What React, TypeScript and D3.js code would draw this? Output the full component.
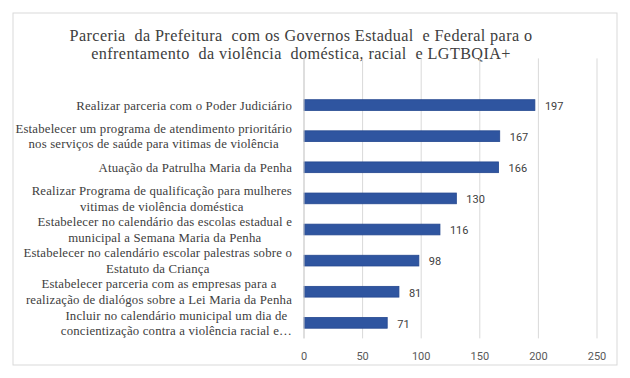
import React from "react";
import * as d3 from "d3";

const titleLines = [
  "Parceria  da Prefeitura  com os Governos Estadual  e Federal para o",
  "enfrentamento  da violência  doméstica, racial  e LGTBQIA+",
];

const categories = [
  "Realizar parceria com o Poder Judiciário",
  "Estabelecer um programa de atendimento prioritário\nnos serviços de saúde para vitimas de violência",
  "Atuação da Patrulha Maria da Penha",
  "Realizar Programa de qualificação para mulheres\nvitimas de violência doméstica",
  "Estabelecer no calendário das escolas estadual e\nmunicipal a Semana Maria da Penha",
  "Estabelecer no calendário escolar palestras sobre o\nEstatuto da Criança",
  "Estabelecer parceria com as empresas para a\nrealização de dialógos sobre a Lei Maria da Penha",
  "Incluir no calendário municipal um dia de\nconcientização contra a violência racial e…",
];

const values = [197, 167, 166, 130, 116, 98, 81, 71];

const xTicks = [0, 50, 100, 150, 200, 250];

const W = 630;
const H = 378;
const plot = { left: 304, right: 597, top: 58.4, bottom: 338.4 };
const SERIF = "'Liberation Serif', 'Times New Roman', 'DejaVu Serif', serif";
const labelSize = 12.8;
const labelSpacing = 0.18;
const labelFont = `${labelSize}px 'Liberation Serif'`;

let ctx: CanvasRenderingContext2D | null = null;
function measure(text: string, font: string, spacing: number): number {
  if (!ctx) {
    const c = document.createElement("canvas");
    ctx = c.getContext("2d");
  }
  if (!ctx) return text.length * 5.5;
  ctx.font = font;
  return ctx.measureText(text).width + spacing * text.length;
}

export default function App() {
  const x = d3.scaleLinear().domain([0, 250]).range([plot.left, plot.right]);
  const domain = ["__blank__", ...categories];
  const y = d3
    .scaleBand<string>()
    .domain(domain)
    .range([plot.top, plot.bottom])
    .paddingInner(0.655)
    .paddingOuter(0.3275);
  const labelRight = 292;
  const lineH = 15.5;

  return (
    <svg
      width={W}
      height={H}
      style={{ position: "absolute", left: 0, top: 0, background: "#fff" }}
    >
      <rect x={13} y={13} width={604} height={352} fill="#fff" stroke="#d9d9d9" strokeWidth={1} />
      {titleLines.map((t, i) => (
        <text
          key={i}
          x={301}
          y={35 + i * 18.4}
          dy="0.35em"
          textAnchor="middle"
          fontFamily={SERIF}
          fontSize={16.2}
          letterSpacing={0.38}
          fill="#404040"
          style={{ whiteSpace: "pre" }}
        >
          {t}
        </text>
      ))}
      {xTicks.map((t) => (
        <line
          key={t}
          x1={x(t)}
          x2={x(t)}
          y1={plot.top}
          y2={plot.bottom}
          stroke="#d9d9d9"
          strokeWidth={1}
        />
      ))}
      {categories.map((c, i) => (
        <rect
          key={c}
          x={x(0)}
          y={y(c) as number}
          width={x(values[i]) - x(0)}
          height={y.bandwidth()}
          fill="#2f55a0"
          stroke="#24478f"
          strokeWidth={0.8}
        />
      ))}
      <line x1={x(0)} x2={x(0)} y1={plot.top} y2={plot.bottom} stroke="#d0d0d0" strokeWidth={1} />
      {categories.map((c, i) => {
        const yc = (y(c) as number) + y.bandwidth() / 2;
        return (
          <text
            key={"v" + i}
            x={x(values[i]) + 10}
            y={yc + 1}
            dy="0.35em"
            fontFamily="Roboto, sans-serif"
            fontSize={11}
            fill="#404040"
          >
            {values[i]}
          </text>
        );
      })}
      {categories.map((c, i) => {
        const lines = c.split("\n");
        const yc = (y(c) as number) + y.bandwidth() / 2;
        const bw = Math.max(...lines.map((l) => measure(l, labelFont, labelSpacing)));
        const cx = labelRight - bw / 2;
        const y0 = yc - ((lines.length - 1) * lineH) / 2;
        return (
          <g key={"l" + i}>
            {lines.map((l, j) => (
              <text
                key={j}
                x={lines.length === 1 ? labelRight : cx}
                y={y0 + j * lineH}
                dy="0.35em"
                textAnchor={lines.length === 1 ? "end" : "middle"}
                fontFamily={SERIF}
                fontSize={labelSize}
                letterSpacing={labelSpacing}
                fill="#404040"
              >
                {l}
              </text>
            ))}
          </g>
        );
      })}
      {xTicks.map((t) => (
        <text
          key={"t" + t}
          x={x(t)}
          y={356}
          dy="0.35em"
          textAnchor="middle"
          fontFamily="Roboto, sans-serif"
          fontSize={11}
          fill="#595959"
        >
          {t}
        </text>
      ))}
    </svg>
  );
}
